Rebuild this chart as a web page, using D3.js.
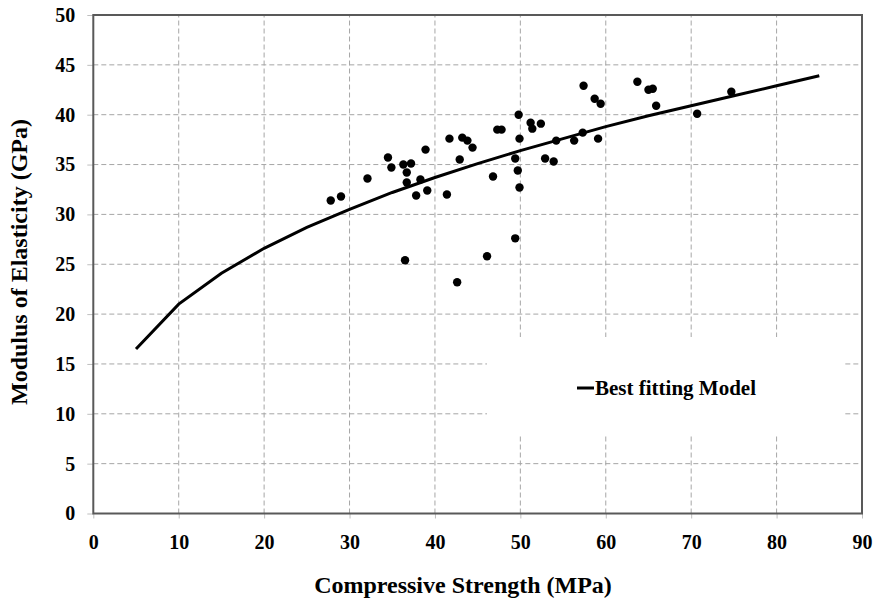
<!DOCTYPE html>
<html>
<head>
<meta charset="utf-8">
<script src="https://cdn.jsdelivr.net/npm/d3@7"></script>
<style>
  body { margin: 0; background: #fff; }
  text { font-family: "Liberation Serif", "Times New Roman", serif; font-weight: bold; fill: #000; }
</style>
</head>
<body>
<div id="chart"></div>
<script>
const WIDTH = 874;
const HEIGHT = 602;
const MARGINS = {left: 93.3, right: 12, top: 15, bottom: 88.5};

// measured points (compressive strength MPa, modulus GPa)
const strength = [27.8, 29.0, 32.1, 34.5, 34.9, 36.3, 37.2, 36.7, 36.7, 38.3,
                  38.9, 37.8, 39.1, 41.4, 41.7, 43.2, 43.8, 44.4, 42.9, 46.8,
                  47.3, 47.8, 49.8, 49.9, 49.4, 49.7, 49.9, 51.2, 51.4, 52.4,
                  52.9, 53.9, 54.2, 56.3, 57.3, 57.4, 58.7, 59.4, 59.1, 63.7,
                  65.0, 65.5, 65.9, 70.7, 74.7, 36.5, 42.6, 46.1, 49.4];
const modulus = [31.4, 31.8, 33.6, 35.7, 34.7, 35.0, 35.1, 34.2, 33.2, 33.5,
                 36.5, 31.9, 32.4, 32.0, 37.6, 37.7, 37.4, 36.7, 35.5, 33.8,
                 38.5, 38.5, 40.0, 37.6, 35.6, 34.4, 32.7, 39.2, 38.6, 39.1,
                 35.6, 35.3, 37.4, 37.4, 38.2, 42.9, 41.6, 41.1, 37.6, 43.3,
                 42.5, 42.6, 40.9, 40.1, 42.3, 25.4, 23.2, 25.8, 27.6];

// best fitting model curve
const modelX = [5, 10, 15, 20, 25, 30, 35, 40, 45, 50, 55, 60, 65, 70, 75, 80, 85];
const modelY = [16.5, 21.0, 24.1, 26.6, 28.7, 30.5, 32.2, 33.7, 35.1, 36.4, 37.6, 38.8, 39.9, 40.9, 41.9, 42.9, 43.9];

const xTicks = [0, 10, 20, 30, 40, 50, 60, 70, 80, 90];
const yTicks = [0, 5, 10, 15, 20, 25, 30, 35, 40, 45, 50];

const svg = d3.select("#chart")
  .append("svg")
    .attr("width", WIDTH)
    .attr("height", HEIGHT);

const X_SCALE = d3.scaleLinear()
  .domain([0, 90])
  .range([MARGINS.left, WIDTH - MARGINS.right]);

const Y_SCALE = d3.scaleLinear()
  .domain([0, 50])
  .range([HEIGHT - MARGINS.bottom, MARGINS.top]);

// gridlines
svg.append("g")
  .selectAll("line")
  .data(yTicks.slice(1, -1))
  .enter()
  .append("line")
    .attr("x1", X_SCALE(0))
    .attr("x2", X_SCALE(90))
    .attr("y1", d => Y_SCALE(d))
    .attr("y2", d => Y_SCALE(d))
    .attr("stroke", "#a6a6a6")
    .attr("stroke-dasharray", "5,3");

svg.append("g")
  .selectAll("line")
  .data(xTicks.slice(1, -1))
  .enter()
  .append("line")
    .attr("x1", d => X_SCALE(d))
    .attr("x2", d => X_SCALE(d))
    .attr("y1", Y_SCALE(0))
    .attr("y2", Y_SCALE(50))
    .attr("stroke", "#a6a6a6")
    .attr("stroke-dasharray", "5,3");

// axes
const xAxis = svg.append("g")
  .attr("transform", `translate(0,${Y_SCALE(0)})`)
  .call(d3.axisBottom(X_SCALE).tickValues(xTicks).tickSize(5).tickPadding(16));

const yAxis = svg.append("g")
  .attr("transform", `translate(${X_SCALE(0)},0)`)
  .call(d3.axisLeft(Y_SCALE).tickValues(yTicks).tickSize(6).tickPadding(12));

[xAxis, yAxis].forEach(a => {
  a.select(".domain").remove();
  a.attr("font-family", null).attr("font-size", null);
  a.selectAll(".tick line").attr("stroke", "#bfbfbf");
  a.selectAll(".tick text")
    .style("font-size", "20px")
    .style("font-family", "'Liberation Serif', serif")
    .style("font-weight", "bold")
    .style("fill", "#000");
});

// frame
svg.append("rect")
  .attr("x", X_SCALE(0))
  .attr("y", Y_SCALE(50))
  .attr("width", X_SCALE(90) - X_SCALE(0))
  .attr("height", Y_SCALE(0) - Y_SCALE(50))
  .attr("fill", "none")
  .attr("stroke", "#595959")
  .attr("stroke-width", 2);

// model line
const line = d3.line()
  .x(d => X_SCALE(d[0]))
  .y(d => Y_SCALE(d[1]));

svg.append("path")
  .datum(modelX.map((x, i) => [x, modelY[i]]))
  .attr("d", line)
  .attr("fill", "none")
  .attr("stroke", "#000")
  .attr("stroke-width", 3);

// points
svg.append("g")
  .selectAll("circle")
  .data(strength.map((x, i) => [x, modulus[i]]))
  .enter()
  .append("circle")
    .attr("cx", d => X_SCALE(d[0]))
    .attr("cy", d => Y_SCALE(d[1]))
    .attr("r", 4.2)
    .attr("fill", "#000");

// legend
svg.append("rect")
  .attr("x", 487)
  .attr("y", 337)
  .attr("width", 358)
  .attr("height", 98)
  .attr("fill", "#fff");

svg.append("line")
  .attr("x1", 577)
  .attr("x2", 594)
  .attr("y1", 388)
  .attr("y2", 388)
  .attr("stroke", "#000")
  .attr("stroke-width", 3);

svg.append("text")
  .attr("x", 595)
  .attr("y", 395)
  .style("font-size", "21px")
  .text("Best fitting Model");

// axis titles
svg.append("text")
  .attr("x", 463)
  .attr("y", 593)
  .attr("text-anchor", "middle")
  .style("font-size", "24px")
  .text("Compressive Strength (MPa)");

svg.append("text")
  .attr("transform", "translate(27,262) rotate(-90)")
  .attr("text-anchor", "middle")
  .style("font-size", "24px")
  .text("Modulus of Elasticity (GPa)");
</script>
</body>
</html>
